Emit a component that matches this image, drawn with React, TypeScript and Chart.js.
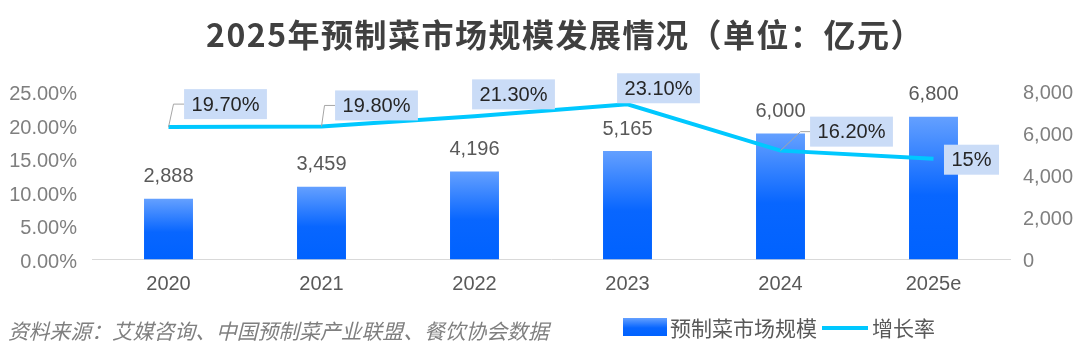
import React, { useEffect, useRef } from 'react';
import { Chart, registerables } from 'chart.js';

Chart.register(...registerables);

const categories = ['2020', '2021', '2022', '2023', '2024', '2025e'];
const marketSize = [2888, 3459, 4196, 5165, 6000, 6800];
const growthRate = [19.7, 19.8, 21.3, 23.1, 16.2, 15];
const growthLabels = ['19.70%', '19.80%', '21.30%', '23.10%', '16.20%', '15%'];

const titleText = '2025年预制菜市场规模发展情况（单位：亿元）';
const sourceText = '资料来源：艾媒咨询、中国预制菜产业联盟、餐饮协会数据';
const legendBarText = '预制菜市场规模';
const legendLineText = '增长率';

// label placement (layout only)
const rateLabelPlacement = [
  { dx: 57, dy: -23, leader: 5 },
  { dx: 55, dy: -21, leader: 3 },
  { dx: 39, dy: -22, leader: null },
  { dx: 31, dy: -16, leader: null },
  { dx: 71, dy: -19, leader: 20 },
  { dx: 38, dy: 1, leader: null },
];

const NUM_FONT = '"Liberation Sans", Arial, sans-serif';
const CJK_FONT = '"Noto Sans CJK SC", "Noto Sans", sans-serif';

function barGradient(ctx: CanvasRenderingContext2D, top: number, bottom: number) {
  const g = ctx.createLinearGradient(0, top, 0, bottom);
  g.addColorStop(0, '#64A0FF');
  g.addColorStop(0.55, '#0866FF');
  g.addColorStop(1, '#0062FF');
  return g;
}

const overlayPlugin = {
  id: 'overlay',
  afterDatasetsDraw(chart: any) {
    const ctx: CanvasRenderingContext2D = chart.ctx;
    ctx.save();
    // bar value labels
    ctx.font = `20px ${NUM_FONT}`;
    ctx.fillStyle = '#595959';
    ctx.textAlign = 'center';
    ctx.textBaseline = 'middle';
    const barMeta = chart.getDatasetMeta(0);
    barMeta.data.forEach((el: any, i: number) => {
      ctx.fillText(marketSize[i].toLocaleString('en-US'), el.x, el.y - 22);
    });
    // line labels
    const lineMeta = chart.getDatasetMeta(1);
    lineMeta.data.forEach((pt: any, i: number) => {
      const p = rateLabelPlacement[i];
      const cx = pt.x + p.dx;
      const cy = pt.y + p.dy;
      const text = growthLabels[i];
      const w = ctx.measureText(text).width + 15;
      const h = 30;
      if (p.leader !== null) {
        ctx.strokeStyle = '#A6A6A6';
        ctx.lineWidth = 1;
        ctx.beginPath();
        ctx.moveTo(pt.x, pt.y);
        ctx.lineTo(pt.x + (p.leader as number), cy);
        ctx.lineTo(cx - w / 2, cy);
        ctx.stroke();
      }
      ctx.fillStyle = '#CADCF7';
      ctx.fillRect(cx - w / 2, cy - h / 2, w, h);
      ctx.fillStyle = '#262626';
      ctx.fillText(text, cx, cy + 1);
    });
    ctx.restore();
  },
  afterDraw(chart: any) {
    const ctx: CanvasRenderingContext2D = chart.ctx;
    ctx.save();
    // title
    ctx.font = `bold 32px ${CJK_FONT}`;
    (ctx as any).letterSpacing = '1.5px';
    ctx.fillStyle = '#404040';
    ctx.textAlign = 'left';
    ctx.textBaseline = 'middle';
    ctx.fillText(titleText, 206, 35);
    (ctx as any).letterSpacing = '0px';
    // source
    ctx.font = `italic 20.8px ${CJK_FONT}`;
    ctx.fillStyle = '#7F7F7F';
    ctx.textAlign = 'left';
    ctx.fillText(sourceText, 8, 331);
    // legend
    ctx.fillStyle = barGradient(ctx, 318, 336);
    ctx.fillRect(623, 318, 44, 18);
    ctx.font = `21px ${CJK_FONT}`;
    ctx.fillStyle = '#595959';
    ctx.fillText(legendBarText, 670, 328);
    ctx.strokeStyle = '#00C8FF';
    ctx.lineWidth = 4;
    ctx.beginPath();
    ctx.moveTo(822, 328);
    ctx.lineTo(868, 328);
    ctx.stroke();
    ctx.fillText(legendLineText, 872, 328);
    ctx.restore();
  },
};

export default function App() {
  const canvasRef = useRef<HTMLCanvasElement | null>(null);

  useEffect(() => {
    const canvas = canvasRef.current;
    if (!canvas) return;
    const chart = new Chart(canvas, {
      type: 'bar',
      data: {
        labels: categories,
        datasets: [
          {
            type: 'bar',
            label: legendBarText,
            data: marketSize,
            yAxisID: 'yR',
            order: 1,
            barPercentage: 0.32,
            categoryPercentage: 1,
            backgroundColor: (c: any) => {
              const ch = c.chart;
              if (!ch.chartArea || c.type !== 'data') return '#0066FF';
              const yR = ch.scales.yR;
              const top = yR.getPixelForValue(c.raw);
              const bottom = yR.getPixelForValue(0);
              return barGradient(ch.ctx, top, bottom);
            },
          },
          {
            type: 'line',
            label: legendLineText,
            data: growthRate,
            yAxisID: 'yL',
            order: 0,
            borderColor: '#00C8FF',
            borderWidth: 4,
            pointRadius: 0,
            tension: 0,
            fill: false,
          },
        ] as any,
      },
      options: {
        responsive: false,
        animation: false,
        layout: { padding: { top: 91.5, bottom: 55.5, left: 0, right: 0 } },
        plugins: {
          legend: { display: false },
          tooltip: { enabled: false },
          title: { display: false },
        },
        scales: {
          x: {
            grid: { display: false, drawTicks: false },
            border: { display: true, color: '#D9D9D9', width: 1 },
            ticks: {
              color: '#595959',
              font: { family: NUM_FONT, size: 20 },
              padding: 13,
            },
            afterFit: (s: any) => {
              s.height = 40;
            },
          },
          yL: {
            type: 'linear',
            position: 'left',
            min: 0,
            max: 25,
            grid: { display: false, drawTicks: false },
            border: { display: false },
            ticks: {
              stepSize: 5,
              color: '#7F7F7F',
              font: { family: NUM_FONT, size: 20 },
              padding: 15,
              labelOffset: 3,
              callback: (v: any) => Number(v).toFixed(2) + '%',
            },
            afterFit: (s: any) => {
              s.width = 92;
            },
          },
          yR: {
            type: 'linear',
            position: 'right',
            min: 0,
            max: 8000,
            grid: { display: false, drawTicks: false },
            border: { display: false },
            ticks: {
              stepSize: 2000,
              color: '#7F7F7F',
              font: { family: NUM_FONT, size: 20 },
              padding: 13,
              labelOffset: 2,
              callback: (v: any) => Number(v).toLocaleString('en-US'),
            },
            afterFit: (s: any) => {
              s.width = 70;
            },
          },
        },
      } as any,
      plugins: [overlayPlugin],
    });
    return () => chart.destroy();
  }, []);

  return (
    <div style={{ position: 'absolute', left: 0, top: 0, width: 1080, height: 355, background: '#FFFFFF' }}>
      <canvas ref={canvasRef} width={1080} height={355} style={{ display: 'block', width: 1080, height: 355 }} />
    </div>
  );
}
